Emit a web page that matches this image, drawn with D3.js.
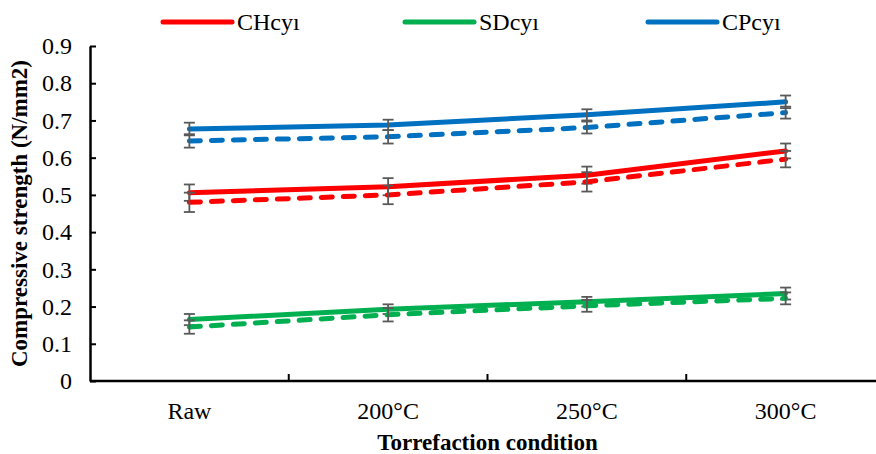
<!DOCTYPE html>
<html>
<head>
<meta charset="utf-8">
<script src="https://cdn.jsdelivr.net/npm/d3@7"></script>
<style>
  html, body { margin: 0; padding: 0; background: #fff; }
  svg { display: block; }
  text { font-family: "Liberation Serif", "Times New Roman", serif; fill: #000; }
</style>
</head>
<body>
<div id="chart"></div>
<script>
// categories and tick labels
const categories = ["Raw", "200°C", "250°C", "300°C"];
const yTicks = [0, 0.1, 0.2, 0.3, 0.4, 0.5, 0.6, 0.7, 0.8, 0.9];
const yTickLabels = ["0", "0.1", "0.2", "0.3", "0.4", "0.5", "0.6", "0.7", "0.8", "0.9"];
const seriesNames = ["CHcyı", "SDcyı", "CPcyı"];

// solid lines (legend series)
const chSolid = [0.506, 0.522, 0.553, 0.618];
const sdSolid = [0.165, 0.193, 0.213, 0.235];
const cpSolid = [0.677, 0.688, 0.715, 0.750];
const chSolidErr = [0.022, 0.023, 0.023, 0.020];
const sdSolidErr = [0.015, 0.013, 0.013, 0.016];
const cpSolidErr = [0.017, 0.014, 0.015, 0.017];

// dashed lines
const chDashed = [0.480, 0.500, 0.535, 0.596];
const sdDashed = [0.145, 0.178, 0.202, 0.222];
const cpDashed = [0.645, 0.656, 0.681, 0.721];
const chDashedErr = [0.026, 0.025, 0.026, 0.022];
const sdDashedErr = [0.018, 0.018, 0.016, 0.016];
const cpDashedErr = [0.018, 0.018, 0.016, 0.016];

const WIDTH = 876;
const HEIGHT = 454;
const MARGINS = { top: 46, right: -9, bottom: 73, left: 90 };
const COLORS = ["#FF0000", "#00B050", "#0070C0"];

const xScale = d3.scaleBand()
    .domain(categories)
    .range([MARGINS.left, WIDTH - MARGINS.right])
    .padding(0);
const xMid = c => xScale(c) + xScale.bandwidth() / 2;
const yScale = d3.scaleLinear()
    .domain([0, 0.9])
    .range([HEIGHT - MARGINS.bottom, MARGINS.top]);

const svg = d3.select("#chart").append("svg")
    .attr("width", WIDTH)
    .attr("height", HEIGHT)
    .attr("viewBox", [0, 0, WIDTH, HEIGHT]);

// x axis: line plus ticks between the categories, pointing up
const xAxis = svg.append("g")
    .attr("transform", `translate(0,${yScale(0)})`)
    .call(d3.axisBottom(xScale).tickSize(0).tickPadding(21));
xAxis.select(".domain").attr("stroke-width", 2.5).attr("d", `M${MARGINS.left},0H${WIDTH - MARGINS.right}`);
xAxis.selectAll("text").style("font-size", "24px").attr("font-family", null);
xAxis.selectAll(".sep")
    .data(categories.slice(1))
    .join("line")
    .attr("class", "sep")
    .attr("x1", d => xScale(d)).attr("x2", d => xScale(d))
    .attr("y1", 0).attr("y2", -7)
    .attr("stroke", "#000").attr("stroke-width", 2);

// y axis with inward ticks
const yAxis = svg.append("g")
    .attr("transform", `translate(${MARGINS.left},0)`)
    .call(d3.axisLeft(yScale)
        .tickValues(yTicks)
        .tickFormat((d, i) => yTickLabels[i])
        .tickSizeInner(-6)
        .tickSizeOuter(0)
        .tickPadding(18));
yAxis.select(".domain").attr("stroke-width", 2.5);
yAxis.selectAll(".tick line").attr("stroke-width", 2);
yAxis.selectAll("text").style("font-size", "24px").attr("font-family", null);

// axis titles
svg.append("text")
    .text("Compressive strength (N/mm2)")
    .attr("transform", `translate(27,${(yScale(0) + yScale(0.9)) / 2}) rotate(-90)`)
    .attr("text-anchor", "middle")
    .style("font-size", "23px")
    .style("font-weight", "bold");
svg.append("text")
    .text("Torrefaction condition")
    .attr("x", (MARGINS.left + WIDTH - MARGINS.right) / 2)
    .attr("y", 450)
    .attr("text-anchor", "middle")
    .style("font-size", "23px")
    .style("font-weight", "bold");

const line = d3.line()
    .x((d, i) => xMid(categories[i]))
    .y(d => yScale(d));

const solids = [chSolid, sdSolid, cpSolid];
const dashes = [chDashed, sdDashed, cpDashed];
const solidErrs = [chSolidErr, sdSolidErr, cpSolidErr];
const dashedErrs = [chDashedErr, sdDashedErr, cpDashedErr];

function drawSeries(values, errs, color, dashed) {
    svg.append("path")
        .datum(values)
        .attr("d", line)
        .attr("fill", "none")
        .attr("stroke", color)
        .attr("stroke-width", 5)
        .attr("stroke-linecap", "round")
        .attr("stroke-linejoin", "round")
        .attr("stroke-dasharray", dashed ? "11,11" : null);
    const g = svg.append("g").attr("stroke", "#595959").attr("stroke-width", 1.8);
    values.forEach((v, i) => {
        const x = xMid(categories[i]);
        const y1 = yScale(v + errs[i]);
        const y2 = yScale(v - errs[i]);
        g.append("line").attr("x1", x).attr("x2", x).attr("y1", y1).attr("y2", y2);
        g.append("line").attr("x1", x - 5.5).attr("x2", x + 5.5).attr("y1", y1).attr("y2", y1);
        g.append("line").attr("x1", x - 5.5).attr("x2", x + 5.5).attr("y1", y2).attr("y2", y2);
    });
}

solids.forEach((s, k) => drawSeries(s, solidErrs[k], COLORS[k], false));
dashes.forEach((s, k) => drawSeries(s, dashedErrs[k], COLORS[k], true));

// legend
const legendX = [163, 405, 648];
const legend = svg.append("g");
seriesNames.forEach((name, k) => {
    legend.append("line")
        .attr("x1", legendX[k]).attr("x2", legendX[k] + 69)
        .attr("y1", 22).attr("y2", 22)
        .attr("stroke", COLORS[k])
        .attr("stroke-width", 5)
        .attr("stroke-linecap", "round");
    legend.append("text")
        .text(name)
        .attr("x", legendX[k] + 74)
        .attr("y", 30)
        .style("font-size", "24px");
});
</script>
</body>
</html>
